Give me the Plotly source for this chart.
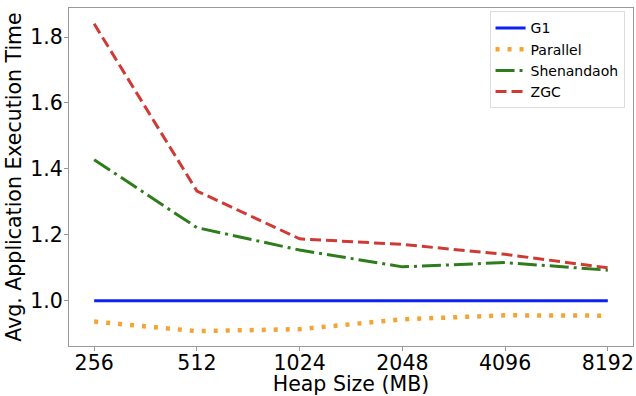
import plotly.graph_objects as go

heap_sizes = ["256", "512", "1024", "2048", "4096", "8192"]
g1 = [1.0, 1.0, 1.0, 1.0, 1.0, 1.0]
parallel = [0.937, 0.908, 0.914, 0.944, 0.956, 0.955]
shenandoah = [1.428, 1.222, 1.154, 1.103, 1.116, 1.093]
zgc = [1.840, 1.333, 1.188, 1.171, 1.141, 1.100]
y_ticks = [1.0, 1.2, 1.4, 1.6, 1.8]

x_idx = list(range(len(heap_sizes)))

fig = go.Figure()
fig.add_trace(go.Scatter(x=x_idx, y=g1, mode="lines", name="G1",
                         line=dict(color="#0a22f5", width=3)))
fig.add_trace(go.Scatter(x=x_idx, y=parallel, mode="lines", name="Parallel",
                         line=dict(color="#f5a332", width=4.5, dash="4px,8px")))
fig.add_trace(go.Scatter(x=x_idx, y=shenandoah, mode="lines", name="Shenandaoh",
                         line=dict(color="#2e7d1c", width=3, dash="19px,5px,3px,5px")))
fig.add_trace(go.Scatter(x=x_idx, y=zgc, mode="lines", name="ZGC",
                         line=dict(color="#d03a35", width=3, dash="11px,5px")))

axis_common = dict(showline=True, linecolor="#999999", linewidth=1.2, mirror=True,
                   ticks="outside", ticklen=4, tickcolor="#999999",
                   showgrid=False, zeroline=False, automargin=False,
                   tickfont=dict(family="DejaVu Sans", size=20.5, color="black"))

fig.update_xaxes(range=[-0.245, 5.245], tickmode="array", tickvals=x_idx,
                 ticktext=heap_sizes, ticklabelstandoff=-6,
                 title=dict(text="Heap Size (MB)", standoff=6,
                            font=dict(family="DejaVu Sans", size=20.5, color="black")),
                 **axis_common)
fig.update_yaxes(range=[0.863, 1.888], tickmode="array", tickvals=y_ticks,
                 ticktext=[f"{v:.1f}" for v in y_ticks], ticklabelstandoff=-3,
                 title=dict(text="Avg. Application Execution Time", standoff=3,
                            font=dict(family="DejaVu Sans", size=20.5, color="black")),
                 **axis_common)

fig.update_layout(
    width=636, height=396,
    margin=dict(l=69, r=3, t=8, b=50, autoexpand=False),
    plot_bgcolor="white", paper_bgcolor="white",
    font=dict(family="DejaVu Sans", color="black"),
    showlegend=True,
    legend=dict(x=0.985, y=0.99, xanchor="right", yanchor="top",
                bgcolor="rgba(255,255,255,0.8)", bordercolor="#dddddd", borderwidth=1,
                font=dict(family="DejaVu Sans", size=14, color="black"),
                itemwidth=30, tracegroupgap=0),
)

fig.write_html("out.html", config={"displayModeBar": False},
               post_script="document.body.style.margin='0';document.body.style.padding='0';")
